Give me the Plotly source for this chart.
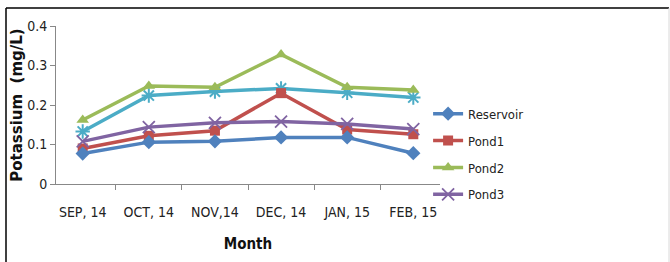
import plotly.graph_objects as go

months = ["SEP, 14", "OCT, 14", "NOV,14", "DEC, 14", "JAN, 15", "FEB, 15"]
reservoir = [0.077, 0.106, 0.108, 0.118, 0.118, 0.078]
pond1 = [0.090, 0.122, 0.135, 0.230, 0.138, 0.126]
pond2 = [0.162, 0.248, 0.245, 0.328, 0.245, 0.238]
pond3 = [0.108, 0.144, 0.155, 0.158, 0.152, 0.139]
pond4 = [0.133, 0.224, 0.234, 0.242, 0.231, 0.219]
yticks = [0, 0.1, 0.2, 0.3, 0.4]
yticklabels = ["0", "0.1", "0.2", "0.3", "0.4"]

FONT = "DejaVu Sans Condensed, Liberation Sans Narrow, sans-serif"

fig = go.Figure()

def add(name, ys, color, symbol, size, show=True, open_line=False, lw=2):
    marker = dict(symbol=symbol, size=size, color=color)
    if open_line:
        marker["line"] = dict(color=color, width=lw)
    fig.add_trace(go.Scatter(
        x=months, y=ys, name=name, mode="lines+markers",
        line=dict(color=color, width=3.5), marker=marker,
        showlegend=show, legendgroup=name))

add("Pond4", pond4, "#4BACC6", "asterisk-open", 12, show=False, open_line=True)
add("Pond2", pond2, "#9BBB59", "triangle-up", 11)
add("Pond1", pond1, "#C0504D", "square", 10)
add("Pond3", pond3, "#8064A2", "x-thin-open", 12, open_line=True, lw=1.8)
add("Reservoir", reservoir, "#4F81BD", "diamond", 11)

order = {"Reservoir": 1, "Pond1": 2, "Pond2": 3, "Pond3": 4, "Pond4": 5}
for t in fig.data:
    t.legendrank = order[t.name]

fig.update_layout(
    width=670, height=262,
    margin=dict(l=56, r=230, t=26, b=78, autoexpand=False),
    paper_bgcolor="white", plot_bgcolor="white",
    font=dict(family=FONT, size=13, color="#222"),
    showlegend=True,
    legend=dict(x=0.969, xanchor="left", y=0.54, yanchor="top",
                font=dict(family=FONT, size=13, color="#222"),
                tracegroupgap=7, itemwidth=30, traceorder="grouped",
                bgcolor="rgba(0,0,0,0)"),
    xaxis=dict(type="category", showline=True, linecolor="#888", linewidth=1,
               ticks="outside", tickson="boundaries", ticklen=5, tickcolor="#888",
               showgrid=False, zeroline=False, automargin=False,
               ticklabelstandoff=15,
               tickfont=dict(family=FONT, size=14, color="#222"),
               title=dict(text="<b>Month</b>", standoff=19,
                          font=dict(family=FONT, size=15, color="#111"))),
    yaxis=dict(range=[0, 0.4], tickvals=yticks, ticktext=yticklabels,
               showline=True, linecolor="#888", linewidth=1,
               ticks="outside", ticklen=5, tickcolor="#888",
               showgrid=False, zeroline=False, automargin=False,
               tickfont=dict(family=FONT, size=14, color="#222"),
               title=dict(text="<b>Potassium  (mg/L)</b>", standoff=0,
                          font=dict(family="DejaVu Sans, Arial, sans-serif", size=15, color="#111"))),
)

# outer chart frame (left and top dark, right faint)
px = lambda p: (p - 56) / 384
py = lambda p: (184 - p) / 158
fig.add_shape(type="line", xref="paper", yref="paper",
              x0=px(6), x1=px(6), y0=py(300), y1=py(8),
              line=dict(color="black", width=1.5), layer="below")
fig.add_shape(type="line", xref="paper", yref="paper",
              x0=px(6), x1=px(669), y0=py(8), y1=py(8),
              line=dict(color="black", width=1.5), layer="below")
fig.add_shape(type="line", xref="paper", yref="paper",
              x0=px(669), x1=px(669), y0=py(300), y1=py(8),
              line=dict(color="#d8d8d8", width=1), layer="below")

fig.write_html("out.html", config={"displayModeBar": False},
               post_script="document.body.style.margin='0';")
